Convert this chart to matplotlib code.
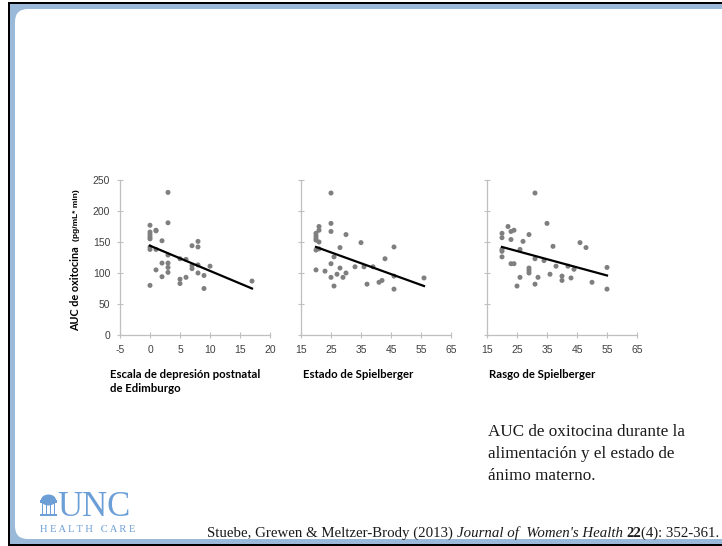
import matplotlib
matplotlib.use('Agg')
import matplotlib.pyplot as plt
from matplotlib.patches import Rectangle, FancyBboxPatch, Ellipse

plt.rcParams['axes.unicode_minus'] = False

# --- data ---
# panel 1: Edinburgh postnatal depression scale vs oxytocin AUC
epds_x = [0, 0, 0, 0, 0, 0, 0, 0, 1, 1, 1, 1, 2, 2, 2, 3, 3, 3, 3, 3, 3,
          5, 5, 5, 6, 6, 7, 7, 7, 8, 8, 8, 8, 9, 9, 10, 17]
epds_y = [177, 166, 162, 158, 155, 142, 138, 80, 169, 168, 138, 105, 152, 116, 94,
          230, 181, 129, 116, 109, 101, 123, 90, 83, 93, 122, 144, 112, 107,
          151, 142, 113, 100, 96, 75, 111, 87]
epds_fit_x = [0, 17]
epds_fit_y = [144, 75]

# panel 2: Spielberger state
state_x = [25, 25, 25, 25, 25, 26, 26, 20, 20, 20, 20, 21, 21, 21, 20, 21, 20, 23,
           28, 28, 27, 29, 30, 30, 33, 35, 36, 37, 39, 41, 42, 43, 46, 46, 46, 56]
state_y = [229, 180, 167, 115, 93, 79, 126, 164, 160, 156, 153, 175, 169, 150, 137,
           139, 105, 103, 141, 108, 98, 93, 100, 162, 110, 149, 110, 82, 110, 85, 88,
           123, 142, 95, 74, 92]
state_fit_x = [20, 56]
state_fit_y = [142, 79]

# panel 3: Spielberger trait
trait_x = [31, 35, 22, 20, 20, 23, 24, 23, 27, 29, 20, 20, 26, 20, 23, 24, 31, 29, 29,
           29, 26, 25, 31, 32, 34, 36, 37, 38, 40, 40, 42, 43, 44, 46, 48, 50, 55, 55]
trait_y = [229, 180, 175, 164, 157, 167, 169, 154, 151, 162, 138, 135, 138, 126, 115,
           115, 123, 108, 104, 100, 93, 79, 82, 93, 120, 98, 143, 111, 95, 88, 111, 92,
           106, 149, 141, 85, 109, 74]
trait_fit_x = [20, 55]
trait_fit_y = [142, 96]

panels = [
    (epds_x, epds_y, epds_fit_x, epds_fit_y, (-5, 20), range(-5, 21, 5),
     'Escala de depresión postnatal\nde Edimburgo', 120),
    (state_x, state_y, state_fit_x, state_fit_y, (15, 65), range(15, 66, 10),
     'Estado de Spielberger', 301),
    (trait_x, trait_y, trait_fit_x, trait_fit_y, (15, 65), range(15, 66, 10),
     'Rasgo de Spielberger', 487),
]
y_ticks = [0, 50, 100, 150, 200, 250]

W, H = 722, 546
fig = plt.figure(figsize=(W / 100, H / 100), dpi=100)
fig.patch.set_facecolor('white')

# slide frame drawn in a pixel-unit background axes
bg = fig.add_axes([0, 0, 1, 1], zorder=-10)
bg.set_xlim(0, W)
bg.set_ylim(H, 0)
bg.axis('off')
bg.add_patch(Rectangle((8, 2), 730, 560, facecolor='black', edgecolor='none'))
bg.add_patch(Rectangle((10, 4), 730, 540, facecolor='#9bbad9', edgecolor='none'))
bg.add_patch(FancyBboxPatch((15, 9), 740, 530, boxstyle='round,pad=0,rounding_size=13',
                            facecolor='white', edgecolor='none'))

tick_font = ['Liberation Sans Narrow', 'Liberation Sans']
label_font = ['Lato', 'DejaVu Sans']

for i, (xs, ys, fx, fy, xlim, xt, xlabel, left) in enumerate(panels):
    ax = fig.add_axes([left / W, 1 - 335 / H, 150 / W, 155 / H])
    ax.scatter(xs, ys, s=13, color='#7f7f7f', edgecolors='none', zorder=3)
    ax.plot(fx, fy, color='black', lw=1.6, zorder=4)
    ax.set_xlim(*xlim)
    ax.set_ylim(0, 250)
    ax.set_xticks(list(xt))
    ax.set_yticks(y_ticks)
    ax.set_facecolor('none')
    for s in ['top', 'right']:
        ax.spines[s].set_visible(False)
    for s in ['left', 'bottom']:
        ax.spines[s].set_color('#bfbfbf')
        ax.spines[s].set_linewidth(0.9)
    ax.tick_params(direction='inout', length=4, width=0.8, color='#bfbfbf',
                   labelcolor='#404040', labelsize=7.5, pad=5)
    for lab in ax.get_xticklabels() + ax.get_yticklabels():
        lab.set_family(tick_font)
    if i > 0:
        ax.set_yticklabels([])
    bg.text(left - 10 if i == 0 else left + 2, 369, xlabel, ha='left', va='top',
            fontsize=8.2, fontweight='bold', family=label_font, color='black',
            linespacing=1.3)

# y axis title
bg.text(76, 331, 'AUC de oxitocina', rotation=90, ha='center', va='bottom',
        fontsize=7.8, fontweight='bold', family=label_font)
bg.text(76, 241, '(pg/mL* min)', rotation=90, ha='center', va='bottom',
        fontsize=6, fontweight='bold', family=tick_font)

# caption on the right
serif = ['Liberation Serif', 'DejaVu Serif']
bg.text(488, 424, 'AUC de oxitocina durante la\nalimentación y el estado de\nánimo materno.',
        ha='left', va='top', fontsize=12.3, family=serif, color='#1a1a1a', linespacing=1.5)

# citation, drawn piece by piece
fig.canvas.draw()
renderer = fig.canvas.get_renderer()
pieces = [('Stuebe, Grewen & Meltzer-Brody (2013) ', 'normal', 'normal'),
          ("Journal of  Women's Health", 'italic', 'normal'),
          (' ', 'normal', 'normal'),
          ('22', 'normal', 'bold'),
          ('(4): 352-361.', 'normal', 'normal')]
x = 207
for txt, style, weight in pieces:
    t = bg.text(x, 537, txt, ha='left', va='baseline', fontsize=10.7, family=serif,
                style=style, fontweight=weight, color='#1a1a1a')
    x += t.get_window_extent(renderer).width

# UNC Health Care logo
logo = '#6d9fd7'
bg.add_patch(Ellipse((48.5, 500), 15, 11, facecolor=logo, edgecolor='none'))
bg.add_patch(Rectangle((40, 500), 17, 3, facecolor=logo, edgecolor='none'))
for cx in [41.5, 45.5, 49.5, 53.5]:
    bg.add_patch(Rectangle((cx, 503), 1.6, 11, facecolor=logo, edgecolor='none'))
bg.add_patch(Rectangle((40, 513.5), 17, 2.5, facecolor=logo, edgecolor='none'))
bg.text(57, 515.5, 'UNC', ha='left', va='baseline', fontsize=25, family=serif,
        color=logo)
bg.text(40, 531.5, 'H E A L T H   C A R E', ha='left', va='baseline', fontsize=7.6,
        family=serif, color=logo)

fig.savefig('out.png', dpi=100)
